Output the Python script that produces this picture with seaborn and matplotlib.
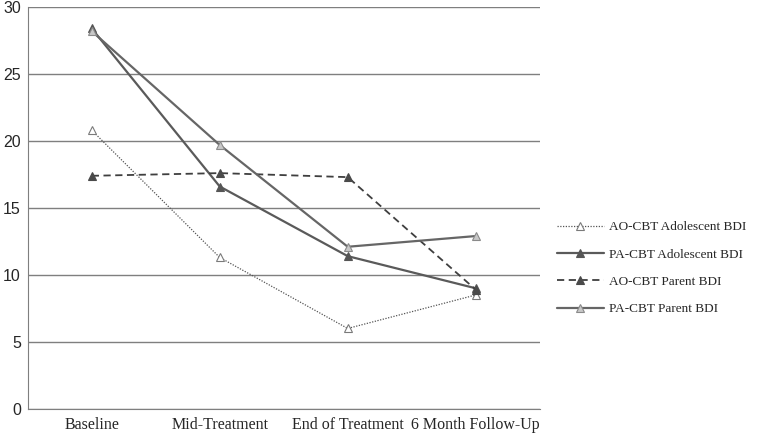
import pandas as pd
import matplotlib.pyplot as plt
import seaborn as sns

# Data
timepoints = ["Baseline", "Mid-Treatment", "End of Treatment", "6 Month Follow-Up"]
ao_adolescent = [20.8, 11.3, 6.0, 8.5]
pa_adolescent = [28.4, 16.6, 11.4, 9.0]
ao_parent = [17.4, 17.6, 17.3, 8.9]
pa_parent = [28.2, 19.7, 12.1, 12.9]

series = {
    "AO-CBT Adolescent BDI": ao_adolescent,
    "PA-CBT Adolescent BDI": pa_adolescent,
    "AO-CBT Parent BDI": ao_parent,
    "PA-CBT Parent BDI": pa_parent,
}
styles = {
    "AO-CBT Adolescent BDI": dict(ls=(0, (1, 1.2)), lw=0.9, mfc="white", mec="#7a7a7a", color="#555555"),
    "PA-CBT Adolescent BDI": dict(ls="-", lw=1.6, mfc="#555555", mec="#555555", color="#5a5a5a"),
    "AO-CBT Parent BDI": dict(ls=(0, (4, 2.5)), lw=1.3, mfc="#4a4a4a", mec="#4a4a4a", color="#3f3f3f"),
    "PA-CBT Parent BDI": dict(ls="-", lw=1.6, mfc="#c8c8c8", mec="#8a8a8a", color="#666666"),
}

sns.set_style("white")

fig = plt.figure(figsize=(7.71, 4.41), dpi=100)
ax = fig.add_axes([0.036, 0.073, 0.664, 0.911])

for name, vals in series.items():
    df = pd.DataFrame({"time": timepoints, "score": vals})
    st = styles[name]
    sns.lineplot(data=df, x="time", y="score", ax=ax, sort=False,
                 color=st["color"], linestyle=st["ls"], linewidth=st["lw"],
                 marker="^", markersize=6, markerfacecolor=st["mfc"],
                 markeredgecolor=st["mec"], markeredgewidth=0.8, label=name)

ax.set_xlim(-0.5, 3.5)
ax.set_ylim(0, 30)
ax.set_yticks(range(0, 31, 5))
ax.yaxis.grid(True, color="#7f7f7f", linewidth=1.0)
ax.set_axisbelow(True)
ax.set_xlabel("")
ax.set_ylabel("")
for s in ["top", "right"]:
    ax.spines[s].set_visible(False)
ax.spines["left"].set_color("#7f7f7f")
ax.spines["bottom"].set_color("#7f7f7f")
ax.tick_params(axis="both", length=0)
ax.tick_params(axis="y", pad=5)
ax.tick_params(axis="x", pad=6)
for lab in ax.get_yticklabels():
    lab.set_fontfamily("Liberation Sans")
    lab.set_fontsize(11.5)
for lab in ax.get_xticklabels():
    lab.set_fontfamily("Liberation Serif")
    lab.set_fontsize(11.5)

leg = ax.legend(loc="center left", bbox_to_anchor=(1.01, 0.35), frameon=False,
                prop={"family": "Liberation Serif", "size": 9.5},
                handlelength=3.6, handletextpad=0.4, labelspacing=1.15)

fig.savefig("out.png", dpi=100)
